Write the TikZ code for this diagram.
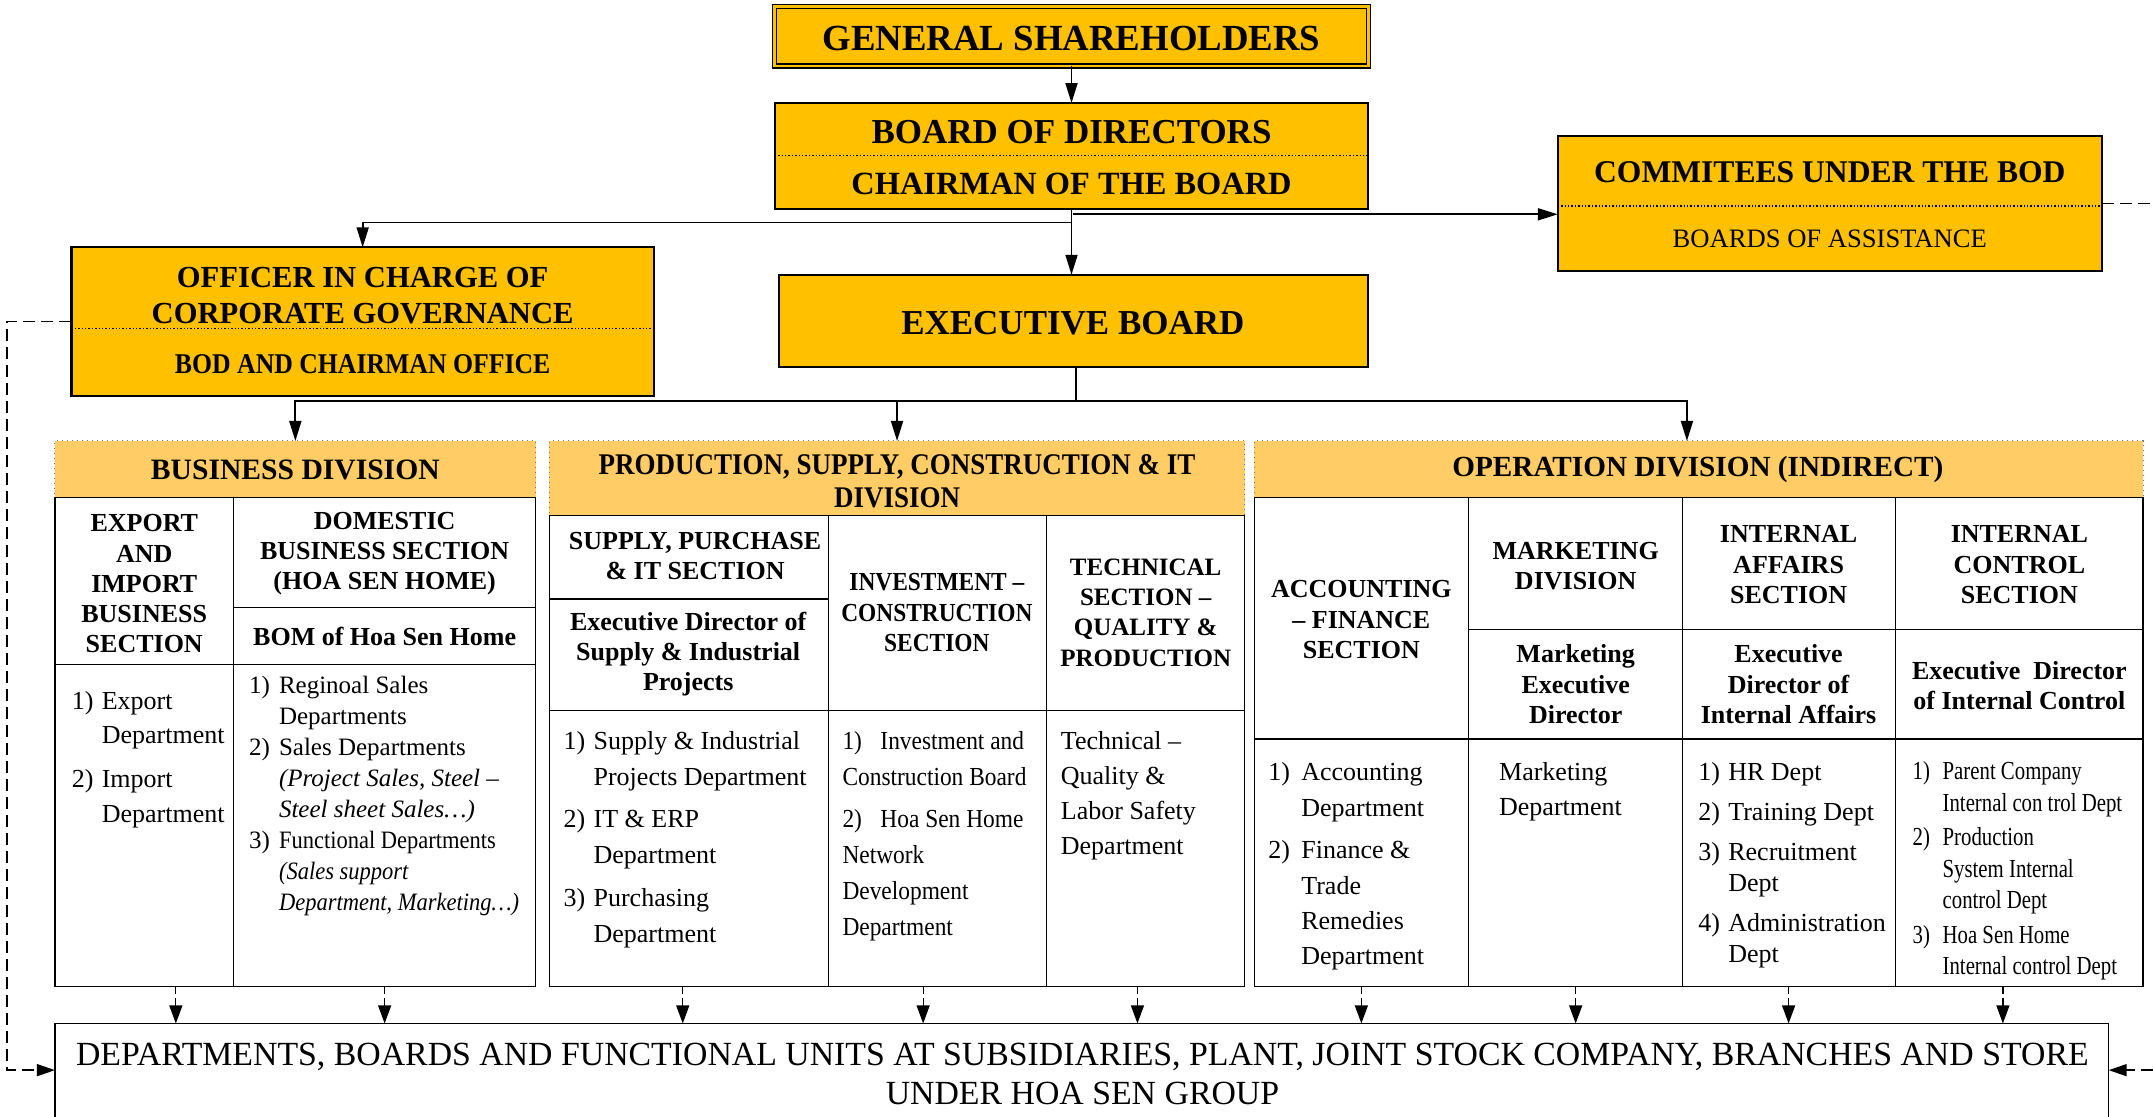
\documentclass[tikz,border=0pt]{standalone}
\usepackage{fontspec}
\setmainfont{Liberation Serif}
\newfontfamily\cnd[FakeStretch=0.9]{Liberation Serif}
\newfontfamily\cndd[FakeStretch=0.8]{Liberation Serif}
\usetikzlibrary{arrows.meta,fit}
\definecolor{hsgold}{HTML}{FFC000}
\definecolor{hsorange}{HTML}{FFCC66}
\newcommand\hsitem[2][15pt]{\makebox[#1][l]{#2}}
\newcommand\hsind[1][15pt]{\hspace*{#1}}
\begin{document}
\begin{tikzpicture}[x=0.68685pt,y=-0.68685pt,
  goldbox/.style={draw=black, line width=1.1pt, fill=hsgold, inner sep=0pt, outer sep=0pt},
  gsbox/.style={draw=black, line width=0.6pt, double=hsgold, double distance=1.4pt, fill=hsgold, inner sep=0pt, outer sep=0pt},
  divhead/.style={draw=black!55, dotted, line width=0.5pt, fill=hsorange, inner sep=0pt, outer sep=0pt},
  cellbox/.style={draw=black, line width=0.6pt, inner sep=0pt, outer sep=0pt},
  cellline/.style={draw=black, line width=0.6pt},
  sepline/.style={densely dotted, line width=0.7pt},
  arr/.style={line width=0.9pt, -{Triangle[length=10pt,width=6pt]}},
  darr/.style={line width=0.6pt, dash pattern=on 4pt off 2pt, -{Triangle[length=9pt,width=6.5pt]}},
  lconn/.style={line width=0.75pt, dash pattern=on 6pt off 3pt, -{Triangle[length=9pt,width=6pt]}},
  ttl/.style={inner sep=0pt, align=center},
  hdiv/.style={font=\fontsize{14.8}{16.5}\selectfont\bfseries, align=center, inner sep=0pt},
  hd/.style={font=\fontsize{13}{15.1}\selectfont\bfseries, align=center, inner sep=0pt},
  bodytext/.style={font=\fontsize{13}{17.6}\selectfont, align=left, inner sep=0pt, anchor=north west}
]
\useasboundingbox (0,0) rectangle (1568,813);

% ---------- top boxes ----------
\node[gsbox, fit={(564,5) (996,48)}] (gs) {};
\node[ttl, font=\fontsize{18.4}{20}\selectfont\bfseries] (gst) at (780,28) {GENERAL SHAREHOLDERS};

\node[goldbox, fit={(564,75) (996,152)}] (bod) {};
\draw[sepline] (564,113) -- (996,113);
\node[ttl, font=\fontsize{17.5}{20}\selectfont\bfseries] (bodt) at (780,96) {BOARD OF DIRECTORS};
\node[ttl, font=\fontsize{16.2}{20}\selectfont\bfseries] (chair) at (780,134) {CHAIRMAN OF THE BOARD};

\node[goldbox, fit={(1134,99) (1530,197)}] (com) {};
\draw[sepline] (1134,150) -- (1530,150);
\node[ttl, font=\fontsize{15.8}{18}\selectfont\bfseries] (comt) at (1332,125) {COMMITEES UNDER THE BOD};
\node[ttl, font=\fontsize{13.3}{16}\selectfont] (boa) at (1332,174) {BOARDS OF ASSISTANCE};

\node[goldbox, fit={(52,180) (476,288)}] (off) {};
\draw[sepline] (52,239) -- (476,239);
\node[ttl, font=\fontsize{15.3}{17.9}\selectfont\bfseries] (offt) at (264,215) {OFFICER IN CHARGE OF\\CORPORATE GOVERNANCE};
\node[ttl, font=\fontsize{14.3}{16}\selectfont\cnd\bfseries] (bodoff) at (264,265) {BOD AND CHAIRMAN OFFICE};

\node[goldbox, fit={(567,200) (996,267)}] (exec) {};
\node[ttl, font=\fontsize{17.5}{20}\selectfont\bfseries] (exect) at (781,235) {EXECUTIVE BOARD};

% ---------- business division ----------
\node[divhead, fit={(40,321) (390,362)}] (bdh) {};
\node[hdiv] (bdht) at (215,342) {BUSINESS DIVISION};
\node[cellbox, fit={(40,362) (390,718)}] (bdb) {};
\draw[cellline] (170,362) -- (170,718);
\draw[cellline] (40,484) -- (390,484);
\draw[cellline] (170,442) -- (390,442);
\node[hd] (exps) at (105,425) {EXPORT\\AND\\IMPORT\\BUSINESS\\SECTION};
\node[hd] (doms) at (280,403) {DOMESTIC\\BUSINESS SECTION\\(HOA SEN HOME)};
\node[hd] (bom) at (280,463) {BOM of Hoa Sen Home};
\node[bodytext, font=\fontsize{13}{17.2}\selectfont] (expl) at (52,503)
  {\hsitem{1)}Export\\\hsind Department\\[4.8pt]\hsitem{2)}Import\\\hsind Department};
\node[bodytext, font=\fontsize{12.5}{15.5}\selectfont] (doml) at (181,492)
  {\hsitem{1)}Reginoal Sales\\\hsind Departments\\\hsitem{2)}Sales Departments\\\hsind\textit{(Project Sales, Steel –}\\\hsind\textit{Steel sheet Sales…)}\\\hsitem{3)}{\cnd Functional Departments}\\\hsind{\cnd\itshape (Sales support}\\\hsind{\cnd\itshape Department, Marketing…)}};

% ---------- production division ----------
\node[divhead, fit={(400,321) (906,375)}] (pdh) {};
\node[hdiv, font=\fontsize{15}{16.5}\selectfont\cnd\bfseries] (pdht) at (653,350) {PRODUCTION, SUPPLY, CONSTRUCTION \& IT\\DIVISION};
\node[cellbox, fit={(400,375) (906,718)}] (pdb) {};
\draw[cellline] (603,375) -- (603,718);
\draw[cellline] (762,375) -- (762,718);
\draw[cellline] (400,517) -- (906,517);
\draw[cellline] (400,436) -- (603,436);
\node[hd] (sups) at (506,405) {SUPPLY, PURCHASE\\\& IT SECTION};
\node[hd] (supd) at (501,476) {Executive Director of\\Supply \& Industrial\\Projects};
\node[hd, font=\fontsize{13}{15.1}\selectfont\cnd\bfseries] (invs) at (682,446) {INVESTMENT –\\CONSTRUCTION\\SECTION};
\node[hd, font=\fontsize{12.5}{15.1}\selectfont\bfseries] (tecs) at (834,446) {TECHNICAL\\SECTION –\\QUALITY \&\\PRODUCTION};
\node[bodytext, font=\fontsize{13}{17.9}\selectfont] (supl) at (410,532)
  {\hsitem{1)}Supply \& Industrial\\\hsind Projects Department\\[3.5pt]\hsitem{2)}IT \& ERP\\\hsind Department\\[3.5pt]\hsitem{3)}Purchasing\\\hsind Department};
\node[bodytext, font=\fontsize{13}{17.9}\selectfont\cnd] (invl) at (613,532)
  {\hsitem[19pt]{1)}Investment and\\Construction Board\\[3.5pt]\hsitem[19pt]{2)}Hoa Sen Home\\Network\\Development\\Department};
\node[bodytext, font=\fontsize{13}{17.6}\selectfont] (tecl) at (772,532)
  {Technical –\\Quality \&\\Labor Safety\\Department};

% ---------- operation division ----------
\node[divhead, fit={(913,321) (1560,362)}] (odh) {};
\node[hdiv, font=\fontsize{14.6}{16.5}\selectfont\bfseries] (odht) at (1236,342) {OPERATION DIVISION (INDIRECT)};
\node[cellbox, fit={(913,362) (1560,718)}] (odb) {};
\draw[cellline] (1069,362) -- (1069,718);
\draw[cellline] (1225,362) -- (1225,718);
\draw[cellline] (1380,362) -- (1380,718);
\draw[cellline] (913,538) -- (1560,538);
\draw[cellline] (1069,458) -- (1560,458);
\node[hd] (accs) at (991,451) {ACCOUNTING\\– FINANCE\\SECTION};
\node[hd] (mkts) at (1147,412) {MARKETING\\DIVISION};
\node[hd] (mktd) at (1147,498) {Marketing\\Executive\\Director};
\node[hd] (ias) at (1302,411) {INTERNAL\\AFFAIRS\\SECTION};
\node[hd] (iad) at (1302,498) {Executive\\Director of\\Internal Affairs};
\node[hd] (ics) at (1470,411) {INTERNAL\\CONTROL\\SECTION};
\node[hd] (icd) at (1470,499) {Executive~~Director\\of Internal Control};
\node[bodytext, font=\fontsize{13}{17.6}\selectfont] (accl) at (923,555)
  {\hsitem[16.5pt]{1)}Accounting\\\hsind[16.5pt]Department\\[3.8pt]\hsitem[16.5pt]{2)}Finance \&\\\hsind[16.5pt]Trade\\\hsind[16.5pt]Remedies\\\hsind[16.5pt]Department};
\node[bodytext, font=\fontsize{13}{17.2}\selectfont] (mktl) at (1091,555)
  {Marketing\\Department};
\node[bodytext, font=\fontsize{13}{15.8}\selectfont] (ial) at (1236,555)
  {\hsitem{1)}HR Dept\\[4pt]\hsitem{2)}Training Dept\\[4pt]\hsitem{3)}Recruitment\\\hsind Dept\\[4pt]\hsitem{4)}Administration\\\hsind Dept};
\node[bodytext, font=\fontsize{13}{15.8}\selectfont\cndd] (icl) at (1392,554)
  {\hsitem{1)}Parent Company\\\hsind Internal con trol Dept\\[1.4pt]\hsitem{2)}Production\\\hsind System Internal\\\hsind control Dept\\[1.4pt]\hsitem{3)}Hoa Sen Home\\\hsind Internal control Dept};

% ---------- bottom box ----------
\node[cellbox, line width=0.8pt, fit={(40,745) (1535,818)}] (bot) {};
\node[ttl, font=\fontsize{16.9}{19.3}\selectfont] (bott) at (788,782)
  {DEPARTMENTS, BOARDS AND FUNCTIONAL UNITS AT SUBSIDIARIES, PLANT, JOINT STOCK COMPANY, BRANCHES AND STORE\\UNDER HOA SEN GROUP};

% ---------- connectors ----------
\draw[arr] (gs.south) -- (bod.north);
\draw[arr] (bod.south) -- (bod.south |- exec.north);
\coordinate (jl) at (780,162);
\coordinate (jr) at (781,156);
\draw[arr] (jl) -| (off.north);
\draw[arr] (jr) -- (jr -| com.west);
\coordinate (jd) at (783,292);
\coordinate (oin) at (1228,321);
\draw[line width=0.9pt] (exec.south -| jd) -- (jd);
\draw[arr] (jd) -| (bdh.north);
\draw[arr] (jd) -| (pdh.north);
\draw[arr] (jd) -| (odh.north -| oin);
\foreach \xx in {128,280,497,672,828,991,1147,1302,1458}
  \draw[darr] (bdb.south -| \xx,0) -- (bot.north -| \xx,0);
\draw[lconn] (off.west) -- (5,234) -- (5,779) -- (bot.west |- 0,779);
\draw[lconn] (com.east) -- (1600,148) -- (1600,779) -- (bot.east |- 0,779);
\end{tikzpicture}
\end{document}
